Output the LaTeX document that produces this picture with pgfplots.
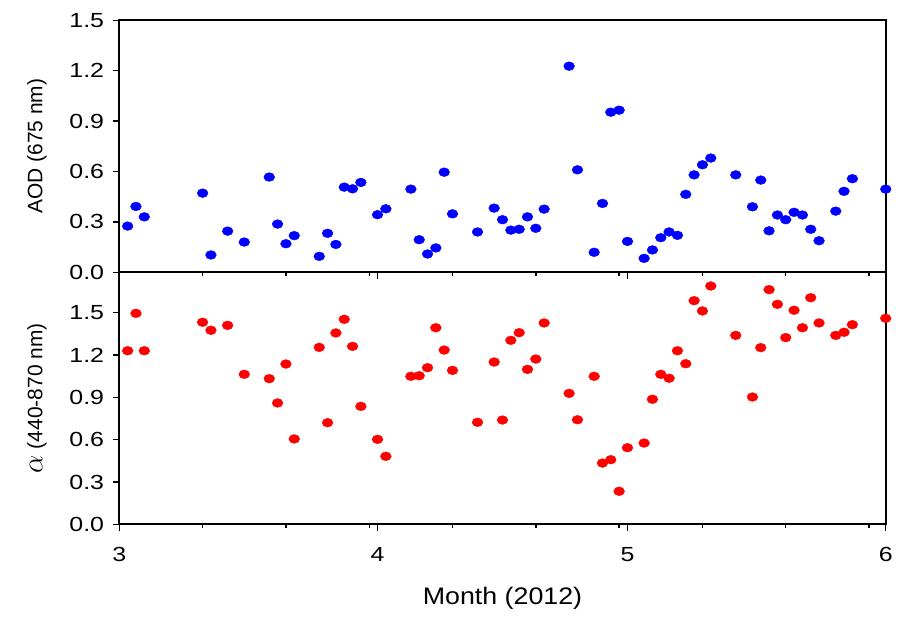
\documentclass[border=0pt]{standalone}
\usepackage{pgfplots}
\pgfplotsset{compat=1.18}
\usepackage{graphicx}
\usepackage{fontspec}
\setmainfont[FakeStretch=1.22]{Liberation Sans}
\newfontfamily\ylabfont{Liberation Sans}
\newfontfamily\xlabfont[FakeStretch=1.12]{Liberation Sans}

\pgfplotstableread{
day aod
62 0.275
63 0.392
64 0.330
71 0.471
72 0.103
74 0.245
76 0.180
79 0.567
80 0.287
81 0.170
82 0.218
85 0.095
86 0.232
87 0.166
88 0.507
89 0.497
90 0.535
92 0.343
93 0.378
96 0.495
97 0.194
98 0.109
99 0.145
100 0.596
101 0.348
104 0.240
106 0.382
107 0.313
108 0.251
109 0.256
110 0.330
111 0.262
112 0.376
115 1.227
116 0.610
118 0.119
119 0.410
120 0.953
121 0.965
122 0.184
124 0.083
125 0.133
126 0.206
127 0.240
128 0.220
129 0.464
130 0.580
131 0.640
132 0.680
135 0.580
137 0.390
138 0.549
139 0.247
140 0.341
141 0.313
142 0.357
143 0.341
144 0.256
145 0.188
147 0.364
148 0.482
149 0.557
153 0.495
}\aodtable

\pgfplotstableread{
day alpha
62 1.230
63 1.495
64 1.230
71 1.432
72 1.375
74 1.410
76 1.063
79 1.032
80 0.860
81 1.136
82 0.605
85 1.254
86 0.720
87 1.356
88 1.453
89 1.261
90 0.836
92 0.602
93 0.482
96 1.049
97 1.053
98 1.110
99 1.393
100 1.235
101 1.091
104 0.723
106 1.150
107 0.739
108 1.304
109 1.358
110 1.098
111 1.171
112 1.427
115 0.928
116 0.741
118 1.049
119 0.434
120 0.458
121 0.234
122 0.543
124 0.576
125 0.886
126 1.063
127 1.035
128 1.230
129 1.138
130 1.585
131 1.512
132 1.689
135 1.339
137 0.902
138 1.252
139 1.663
140 1.559
141 1.323
142 1.517
143 1.393
144 1.606
145 1.427
147 1.339
148 1.361
149 1.415
153 1.460
}\alphatable

\begin{document}
\begin{tikzpicture}
\path[use as bounding box] (-119.3bp,-93.7bp) rectangle (788.7bp,524.3bp);
\pgfplotsset{
  myaxis/.style={
    scale only axis, width=766.4bp, height=252bp,
    xmin=61, xmax=153,
    axis line style={line width=1.8bp},
    tick align=outside, xtick pos=bottom, ytick pos=left,
    major tick length=6.7bp, minor tick length=4bp,
    every tick/.append style={black, line width=1.4bp},
    xtick={61,92,122,153},
    minor xtick={71,81,91,101,111,121,131,141,151},
    ytick={0,0.3,0.6,0.9,1.2,1.5},
    yticklabel style={/pgf/number format/fixed, /pgf/number format/fixed zerofill, /pgf/number format/precision=1},
    /pgf/number format/assume math mode=true,
    tick label style={font=\fontsize{20.5}{24}\selectfont},
    ylabel style={at={(axis description cs:-0.1074,0.5)}, anchor=center, font=\ylabfont\fontsize{21}{25}\selectfont},
    clip=false,
  }
}
\begin{axis}[myaxis, at={(0bp,0bp)}, anchor=south west,
  ymin=0, ymax=1.786,
  xticklabels={3,4,5,6},
  xticklabel style={yshift=-13bp},
  yticklabel style={xshift=-5bp},
  xlabel={Month (2012)},
  xlabel style={at={(axis description cs:0.5,-0.294)}, anchor=center, font=\xlabfont\fontsize{24}{28}\selectfont},
  ylabel={\scalebox{1.4}{$\alpha$} (440-870 nm)}]
\addplot[only marks, mark=*, mark size=4.4bp, color=red, mark options={xscale=1.23, fill=red, draw=red}] table[x=day, y=alpha] {\alphatable};
\end{axis}
\begin{axis}[myaxis, at={(0bp,252bp)}, anchor=south west,
  ymin=0, ymax=1.5,
  xticklabels={},
  yticklabel style={xshift=-5bp},
  ylabel={AOD (675 nm)}]
\addplot[only marks, mark=*, mark size=4.4bp, color=blue, mark options={xscale=1.23, fill=blue, draw=blue}] table[x=day, y=aod] {\aodtable};
\end{axis}
\end{tikzpicture}
\end{document}
